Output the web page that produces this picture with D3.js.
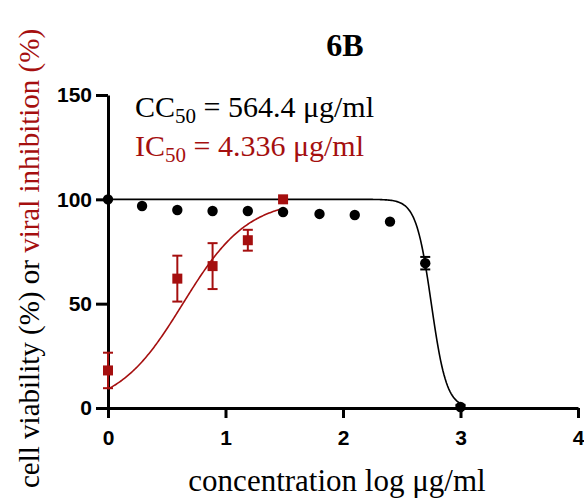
<!DOCTYPE html>
<html>
<head>
<meta charset="utf-8">
<script src="https://cdn.jsdelivr.net/npm/d3@7"></script>
<style>
  body { margin: 0; background: #fff; }
  .axis path, .axis line { stroke: #000; stroke-width: 3px; }
  .axis text { font-family: "Liberation Sans", Arial, sans-serif; font-weight: bold; font-size: 21px; fill: #000; }
  .serif { font-family: "Liberation Serif", "Times New Roman", serif; }
</style>
</head>
<body>
<svg width="584" height="499"></svg>
<script>
// cytotoxicity (black) and antiviral activity (red), log10 concentration in ug/ml
var logConc = [0, 0.29, 0.59, 0.89, 1.19, 1.49, 1.80, 2.10, 2.40, 2.70, 3.00];
var viability = [100, 96.8, 94.9, 94.4, 94.4, 93.9, 93.0, 92.5, 89.3, 69.4, 0.5];
var viabilityErr = [0, 0, 0, 0, 0, 0, 0, 0, 0, 3, 1];

var inhibConc = [0, 0.59, 0.89, 1.19, 1.49];
var inhibition = [18, 62, 68, 80.4, 100];
var inhibitionErr = [8.5, 11, 11, 5, 0];

// fit parameters
var CC50 = 564.4, ccHill = -6.7;
var IC50 = 4.336, icHill = 1.57;

var xTicks = [0, 1, 2, 3, 4];
var yTicks = [0, 50, 100, 150];

var red = "#a50f0f";

var svg = d3.select("svg");
var margin = {top: 95, right: 6, bottom: 91, left: 108};
var width = +svg.attr("width") - margin.left - margin.right;
var height = +svg.attr("height") - margin.top - margin.bottom;

var x = d3.scaleLinear().domain([0, 4]).range([0, width]);
var y = d3.scaleLinear().domain([0, 150]).range([height, 0]);

var g = svg.append("g")
  .attr("transform", "translate(" + margin.left + "," + margin.top + ")");

g.append("g")
  .attr("class", "axis")
  .attr("transform", "translate(0," + height + ")")
  .call(d3.axisBottom(x).tickValues(xTicks).tickFormat(d3.format("d")).tickSize(10).tickSizeOuter(0).tickPadding(12));

g.append("g")
  .attr("class", "axis")
  .call(d3.axisLeft(y).tickValues(yTicks).tickSize(12).tickSizeOuter(0).tickPadding(4));

// fitted curves
function sigmoid(logEC, hill) {
  return function(t) { return 100 / (1 + Math.pow(10, (logEC - t) * hill)); };
}
var ccFit = sigmoid(Math.log10(CC50), ccHill);
var icFit = sigmoid(Math.log10(IC50), icHill);

var line = d3.line()
  .x(function(d) { return x(d[0]); })
  .y(function(d) { return y(d[1]); });

g.append("path")
  .datum(d3.range(0, 3.0001, 0.01).map(function(t) { return [t, ccFit(t)]; }))
  .attr("fill", "none")
  .attr("stroke", "#000")
  .attr("stroke-width", 1.6)
  .attr("d", line);

g.append("path")
  .datum(d3.range(0, 1.4901, 0.01).map(function(t) { return [t, icFit(t)]; }))
  .attr("fill", "none")
  .attr("stroke", red)
  .attr("stroke-width", 1.6)
  .attr("d", line);

// error bars
function errorBars(xs, ys, es, color) {
  var eb = g.append("g").attr("stroke", color).attr("stroke-width", 2);
  xs.forEach(function(xv, i) {
    if (!es[i]) return;
    var cx = x(xv), y1 = y(ys[i] + es[i]), y2 = y(Math.max(0, ys[i] - es[i]));
    eb.append("line").attr("x1", cx).attr("x2", cx).attr("y1", y1).attr("y2", y2);
    eb.append("line").attr("x1", cx - 5).attr("x2", cx + 5).attr("y1", y1).attr("y2", y1);
    eb.append("line").attr("x1", cx - 5).attr("x2", cx + 5).attr("y1", y2).attr("y2", y2);
  });
}
errorBars(logConc, viability, viabilityErr, "#000");
errorBars(inhibConc, inhibition, inhibitionErr, red);

g.selectAll(".dot")
  .data(logConc)
  .enter().append("circle")
  .attr("class", "dot")
  .attr("cx", function(d) { return x(d); })
  .attr("cy", function(d, i) { return y(viability[i]); })
  .attr("r", 5.2)
  .attr("fill", "#000");

g.selectAll(".sq")
  .data(inhibConc)
  .enter().append("rect")
  .attr("class", "sq")
  .attr("x", function(d) { return x(d) - 5; })
  .attr("y", function(d, i) { return y(inhibition[i]) - 5; })
  .attr("width", 10)
  .attr("height", 10)
  .attr("fill", red);

// texts
svg.append("text")
  .attr("class", "serif")
  .attr("x", 345).attr("y", 56)
  .attr("text-anchor", "middle")
  .attr("font-weight", "bold")
  .attr("font-size", 32)
  .text("6B");

function ecLabel(ypos, prefix, value, color) {
  var t = svg.append("text")
    .attr("class", "serif")
    .attr("x", 135).attr("y", ypos)
    .attr("font-size", 30)
    .attr("fill", color);
  t.append("tspan").text(prefix);
  t.append("tspan").attr("font-size", 21).attr("dy", 6).text("50");
  t.append("tspan").attr("dy", -6).text(" = " + value + " \u03bcg/ml");
}
ecLabel(117, "CC", CC50, "#000");
ecLabel(156, "IC", IC50, red);

svg.append("text")
  .attr("class", "serif")
  .attr("x", 337).attr("y", 491)
  .attr("text-anchor", "middle")
  .attr("font-size", 31)
  .text("concentration log \u03bcg/ml");

var yl = svg.append("text")
  .attr("class", "serif")
  .attr("transform", "translate(39,488) rotate(-90)")
  .attr("font-size", 29);
yl.append("tspan").attr("fill", "#000").text("cell viability (%) or ");
yl.append("tspan").attr("fill", red).text("viral inhibition (%)");
</script>
</body>
</html>
